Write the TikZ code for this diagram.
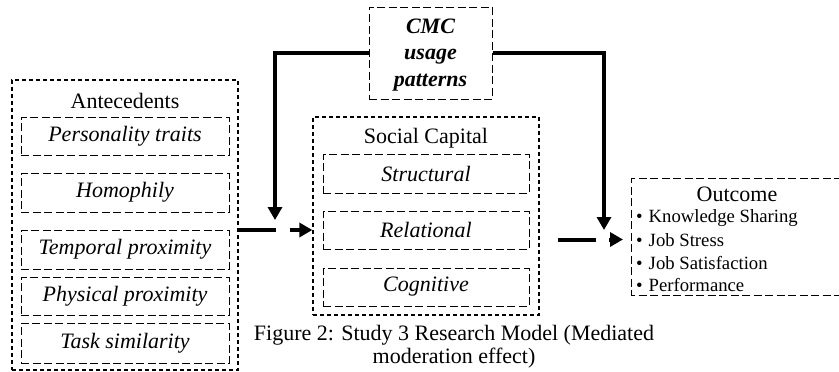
\documentclass[tikz,border=0pt]{standalone}
\usepackage{fontspec}
\setmainfont{Liberation Serif}
\usetikzlibrary{arrows.meta}
\begin{document}
\begin{tikzpicture}[x=1pt,y=-1pt,
  outerbox/.style={draw, dash pattern=on 4pt off 3pt, line width=1.3pt},
  innerbox/.style={draw, dash pattern=on 8pt off 3.5pt, line width=1pt},
  big/.style={font=\fontsize{22}{26}\selectfont},
  itbig/.style={font=\fontsize{22}{26}\selectfont\itshape},
  item/.style={font=\fontsize{18.7}{22}\selectfont, anchor=west, inner sep=0pt},
  thick line/.style={line width=4pt},
  arr/.style={line width=4pt, -{Triangle[length=13pt,width=14pt]}}
]
\useasboundingbox (0,0) rectangle (839,372);

% Antecedents
\node[outerbox, minimum width=226pt, minimum height=290pt, inner sep=0pt] (ante) at (125,225) {};
\node[big] (antet) at (125,101) {Antecedents};
\node[innerbox, itbig, minimum width=208pt, minimum height=38pt, inner sep=0pt] (pers) at (125,136) {Personality traits};
\node[innerbox, itbig, minimum width=208pt, minimum height=39pt, inner sep=0pt] (homo) at (125,192.5) {Homophily};
\node[innerbox, itbig, minimum width=208pt, minimum height=39pt, inner sep=0pt] (temp) at (125,249.5) {Temporal proximity};
\node[innerbox, itbig, minimum width=208pt, minimum height=38pt, inner sep=0pt] (phys) at (125,296) {Physical proximity};
\node[innerbox, itbig, minimum width=208pt, minimum height=40pt, inner sep=0pt] (task) at (125,343) {Task similarity};

% CMC
\node[innerbox, minimum width=123pt, minimum height=92pt, inner sep=0pt] (cmc) at (430.5,53) {};
\node[font=\fontsize{22}{26.5}\selectfont\bfseries\itshape, align=center] (cmct) at (430.5,55) {CMC\\usage\\patterns};

% Social capital
\node[outerbox, minimum width=226pt, minimum height=198pt, inner sep=0pt] (soc) at (426,216) {};
\node[big] (soct) at (426,138) {Social Capital};
\node[innerbox, itbig, minimum width=206pt, minimum height=39pt, inner sep=0pt] (str) at (426,173.5) {Structural};
\node[innerbox, itbig, minimum width=206pt, minimum height=38pt, inner sep=0pt] (rel) at (426,230) {Relational};
\node[innerbox, itbig, minimum width=206pt, minimum height=38pt, inner sep=0pt] (cog) at (426,287) {Cognitive};

% Outcome
\node[minimum width=210pt, minimum height=116pt, inner sep=0pt] (out) at (737,237) {};
\draw[innerbox] (out.north east) -- (out.north west) -- (out.south west) -- (out.south east);
\node[big] (outt) at (737,194) {Outcome};
\node[item] (i1) at (636,218) {•\hspace{6pt}Knowledge Sharing};
\node[item] (i2) at (636,240.5) {•\hspace{6pt}Job Stress};
\node[item] (i3) at (636,263) {•\hspace{6pt}Job Satisfaction};
\node[item] (i4) at (636,285.5) {•\hspace{6pt}Performance};

% Caption
\node[big, align=center, font=\fontsize{22}{23}\selectfont] (cap) at (454,346.5) {Figure 2: Study 3 Research Model (Mediated\\moderation effect)};

% Connectors
\coordinate (lt) at (275,53);
\coordinate (ld) at (275,220);
\coordinate (rt) at (604,53);
\coordinate (rd) at (604,230);
\draw[arr] (cmc.west |- lt) -- (lt) -- (ld);
\draw[arr] (cmc.east |- rt) -- (rt) -- (rd);

\coordinate (a1) at (276,230);
\coordinate (a2) at (290,230);
\draw[thick line] (ante.east |- a1) -- (a1);
\draw[arr] (a2) -- (soc.west |- a2);

\coordinate (b0) at (558,239.5);
\coordinate (b1) at (596,239.5);
\coordinate (b2) at (609,239.5);
\coordinate (b3) at (623,239.5);
\draw[thick line] (b0) -- (b1);
\draw[arr] (b2) -- (b3);
\end{tikzpicture}
\end{document}
